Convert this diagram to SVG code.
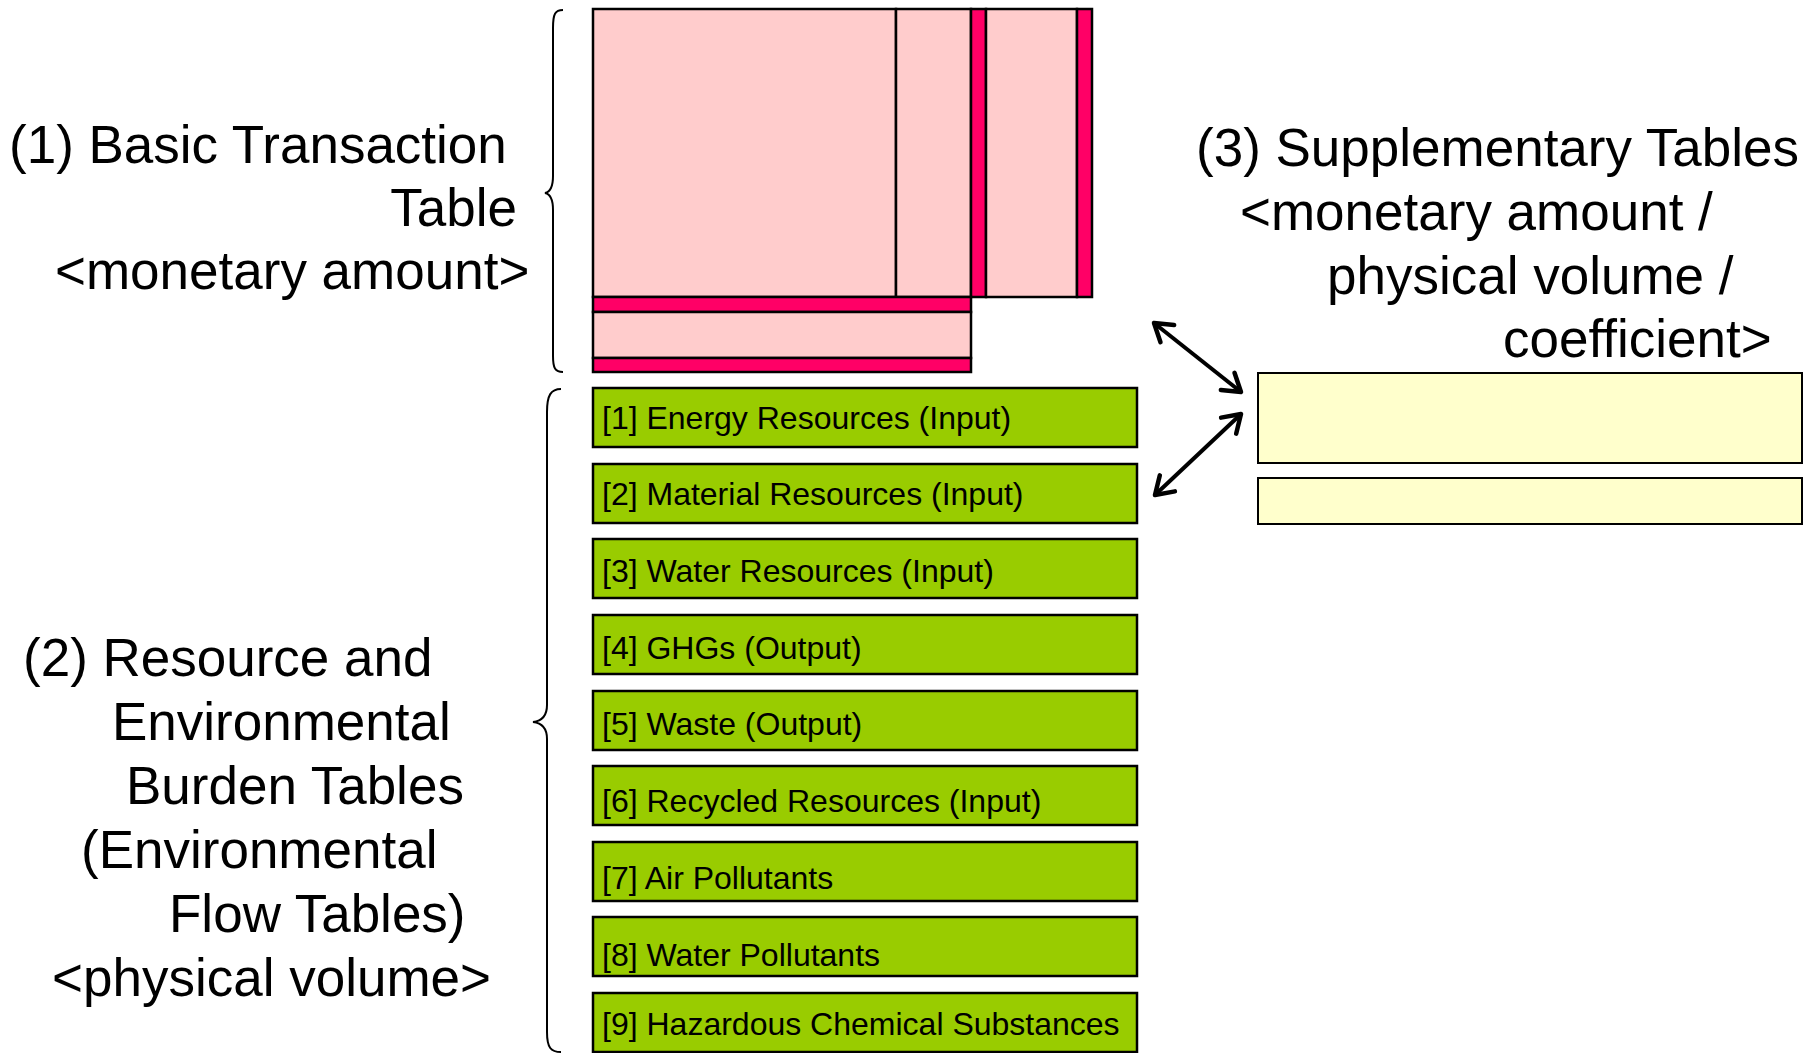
<svg xmlns="http://www.w3.org/2000/svg" width="1806" height="1053" viewBox="0 0 1806 1053">
<defs>
<style>
.pk{fill:#FFCCCC;stroke:#000;stroke-width:2.5}
.rd{fill:#FF0066;stroke:#000;stroke-width:2.5}
.gr{fill:#99CC00;stroke:#000;stroke-width:2.5}
.yl{fill:#FFFFCC;stroke:#000;stroke-width:2}
.big{font-family:"Liberation Sans",Arial,sans-serif;font-size:53px;fill:#000}
.lbl{font-family:"Liberation Sans",Arial,sans-serif;font-size:32px;fill:#000}
.br{fill:none;stroke:#000;stroke-width:2}
.ar{fill:none;stroke:#000;stroke-width:4}
</style>
<marker id="ah" viewBox="-25 -15 30 30" refX="0" refY="0" markerWidth="30" markerHeight="30" markerUnits="userSpaceOnUse" orient="auto-start-reverse" overflow="visible">
<path d="M-17,-11 L0,0 L-17,11" fill="none" stroke="#000" stroke-width="4.5" stroke-linecap="round" stroke-linejoin="round"/>
</marker>
</defs>
<rect width="1806" height="1053" fill="#fff"/>

<g id="basic-table">
<rect class="pk" x="593" y="9" width="303" height="288"/>
<rect class="pk" x="896" y="9" width="75" height="288"/>
<rect class="rd" x="971" y="9" width="15" height="288"/>
<rect class="pk" x="986" y="9" width="91" height="288"/>
<rect class="rd" x="1077" y="9" width="15" height="288"/>
<rect class="rd" x="593" y="297" width="378" height="15"/>
<rect class="pk" x="593" y="312" width="378" height="46"/>
<rect class="rd" x="593" y="358" width="378" height="14"/>
</g>

<g id="label-1">
<path class="br" d="M563,10 C555,10 553,14 553,28 L553,176 C553,188 550,192 545,193 C550,194 553,198 553,210 L553,356 C553,368 555,372 563,372"/>
<text class="big" x="9" y="163">(1) Basic Transaction</text>
<text class="big" x="517" y="226" text-anchor="end">Table</text>
<text class="big" x="55" y="289">&lt;monetary amount&gt;</text>
</g>

<g id="label-2">
<path class="br" d="M561,389 C551,389 547,395 547,412 L547,705 C547,716 542,721 533,722 C542,723 547,728 547,739 L547,1032 C547,1048 551,1052 561,1052"/>
<text class="big" x="23" y="676">(2) Resource and</text>
<text class="big" x="112" y="740">Environmental</text>
<text class="big" x="126" y="804">Burden Tables</text>
<text class="big" x="81" y="868">(Environmental</text>
<text class="big" x="169" y="932">Flow Tables)</text>
<text class="big" x="52" y="996">&lt;physical volume&gt;</text>
</g>

<g id="env-tables">
<g id="t1"><rect class="gr" x="593" y="388" width="544" height="59"/><text class="lbl" x="602" y="429">[1] Energy Resources (Input)</text></g>
<g id="t2"><rect class="gr" x="593" y="464" width="544" height="59"/><text class="lbl" x="602" y="505">[2] Material Resources (Input)</text></g>
<g id="t3"><rect class="gr" x="593" y="539" width="544" height="59"/><text class="lbl" x="602" y="582">[3] Water Resources (Input)</text></g>
<g id="t4"><rect class="gr" x="593" y="615" width="544" height="59"/><text class="lbl" x="602" y="659">[4] GHGs (Output)</text></g>
<g id="t5"><rect class="gr" x="593" y="691" width="544" height="59"/><text class="lbl" x="602" y="735">[5] Waste (Output)</text></g>
<g id="t6"><rect class="gr" x="593" y="766" width="544" height="59"/><text class="lbl" x="602" y="812">[6] Recycled Resources (Input)</text></g>
<g id="t7"><rect class="gr" x="593" y="842" width="544" height="59"/><text class="lbl" x="602" y="889">[7] Air Pollutants</text></g>
<g id="t8"><rect class="gr" x="593" y="917" width="544" height="59"/><text class="lbl" x="602" y="966">[8] Water Pollutants</text></g>
<g id="t9"><rect class="gr" x="593" y="993" width="544" height="59"/><text class="lbl" x="602" y="1035">[9] Hazardous Chemical Substances</text></g>
</g>

<g id="supplementary">
<rect class="yl" x="1258" y="373" width="544" height="90"/>
<rect class="yl" x="1258" y="478" width="544" height="46"/>
<text class="big" x="1196" y="166">(3) Supplementary Tables</text>
<text class="big" x="1240" y="230">&lt;monetary amount /</text>
<text class="big" x="1327" y="294">physical volume /</text>
<text class="big" x="1503" y="357">coefficient&gt;</text>
</g>

<g id="connectors">
<line class="ar" x1="1154" y1="323" x2="1241" y2="392" marker-start="url(#ah)" marker-end="url(#ah)"/>
<line class="ar" x1="1241" y1="414" x2="1155" y2="495" marker-start="url(#ah)" marker-end="url(#ah)"/>
</g>
</svg>
